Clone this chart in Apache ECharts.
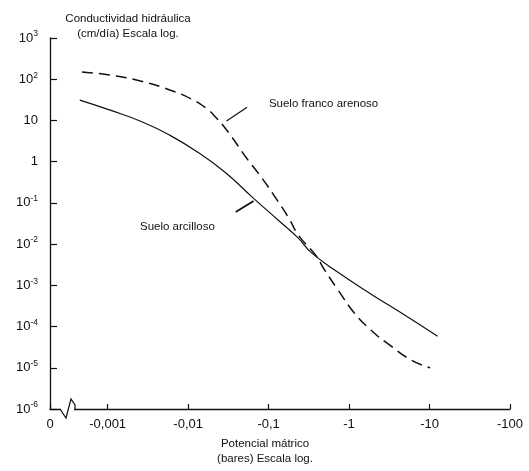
<!DOCTYPE html>
<html>
<head>
<meta charset="utf-8">
<script src="https://cdn.jsdelivr.net/npm/echarts@6/dist/echarts.min.js"></script>
<style>
html,body{margin:0;padding:0;background:#fff}
#chart{width:529px;height:471px}
</style>
</head>
<body>
<div id="chart"></div>
<script>
// potencial mátrico (bares) / conductividad hidráulica (cm/día)
const francoPotencial = [-0.00048, -0.0011, -0.0027, -0.0059, -0.011, -0.0166, -0.022, -0.032, -0.052, -0.081, -0.123, -0.178, -0.234, -0.38, -0.5, -0.72, -1.17, -1.86, -3.0, -5.9, -10.2];
const francoK = [150, 125, 88, 55, 33, 20, 12, 5, 1.3, 0.42, 0.13, 0.043, 0.0166, 0.0055, 0.0023, 0.0008, 2.1e-4, 8.3e-5, 3.9e-5, 1.55e-5, 1.0e-5];
const arcillaPotencial = [-0.00045, -0.00105, -0.0027, -0.0059, -0.0138, -0.0295, -0.062, -0.132, -0.234, -0.34, -0.72, -1.86, -4.9, -12.6];
const arcillaK = [31, 18, 9.2, 4.4, 1.6, 0.53, 0.14, 0.038, 0.014, 0.0062, 0.0021, 6.2e-4, 1.9e-4, 5.8e-5];

const nombres = ['Suelo franco arenoso', 'Suelo arcilloso'];
const tituloY = 'Conductividad hidráulica\n(cm/día) Escala log.';
const tituloX = 'Potencial mátrico\n(bares) Escala log.';

const ink = '#111';
const font = 'Liberation Sans, Arial, sans-serif';

function pares(pot, k){
	return pot.map((p, i) => [Math.abs(p), k[i]]);
}

function etiquetaX(v){
	if (v < 0.0009) return '0';
	let e = Math.round(Math.log10(v));
	if (e < 0) return '-0,' + '0'.repeat(-e - 1) + '1';
	return '-' + Math.pow(10, e);
}

function etiquetaY(v){
	let e = Math.round(Math.log10(v));
	if (e === 0) return '1';
	if (e === 1) return '10';
	return '{b|10}{s|' + e + '}';
}

let myChart = echarts.init(document.getElementById('chart'));

let option = {
	animation: false,
	backgroundColor: '#fff',
	textStyle: { fontFamily: font, color: ink },
	grid: {
		left: 50,
		right: 19,
		top: 38,
		bottom: 62,
		containLabel: false,
		outerBoundsMode: 'none'
	},
	xAxis: {
		type: 'log',
		logBase: 10,
		min: 0.000192,
		max: 100,
		name: tituloX,
		nameLocation: 'middle',
		nameGap: 27,
		nameMoveOverlap: false,
		nameTextStyle: {
			fontSize: 11.5,
			lineHeight: 15,
			color: ink,
			align: 'center',
			verticalAlign: 'top',
			padding: [0, 30, 0, 0]
		},
		axisLine: { lineStyle: { color: ink, width: 1.3 } },
		axisTick: { inside: true, length: 5, lineStyle: { color: ink, width: 1.2 } },
		axisLabel: {
			fontSize: 13,
			color: ink,
			margin: 9,
			formatter: etiquetaX
		},
		splitLine: { show: false },
		minorTick: { show: false }
	},
	yAxis: {
		type: 'log',
		logBase: 10,
		min: 1e-6,
		max: 1e3,
		name: tituloY,
		nameLocation: 'end',
		nameGap: -3,
		nameMoveOverlap: false,
		nameTextStyle: {
			fontSize: 11.5,
			lineHeight: 15,
			color: ink,
			align: 'center',
			verticalAlign: 'bottom',
			padding: [0, 0, 0, 156]
		},
		axisLine: { show: true, lineStyle: { color: ink, width: 1.3 } },
		axisTick: { inside: true, length: 7, lineStyle: { color: ink, width: 1.2 } },
		axisLabel: {
			fontSize: 13,
			color: ink,
			margin: 12,
			formatter: etiquetaY,
			rich: {
				b: { fontSize: 13, color: ink, fontFamily: font },
				s: { fontSize: 8.5, color: ink, fontFamily: font, padding: [0, 0, 8, 0] }
			}
		},
		splitLine: { show: false },
		minorTick: { show: false }
	},
	series: [
		{
			name: nombres[0],
			type: 'line',
			data: pares(francoPotencial, francoK),
			smooth: 0.5,
			showSymbol: false,
			lineStyle: { color: ink, width: 1.5, type: [11, 6] },
			markLine: {
				silent: true,
				symbol: ['none', 'none'],
				label: { show: false },
				lineStyle: { color: ink, width: 1.2, type: 'solid' },
				data: [[{ coord: [0.030, 9.7] }, { coord: [0.054, 21] }]]
			},
			markPoint: {
				silent: true,
				symbolSize: 1,
				itemStyle: { color: 'rgba(0,0,0,0)' },
				label: {
					show: true,
					position: 'right',
					distance: 0,
					fontSize: 11.5,
					color: ink,
					formatter: nombres[0]
				},
				data: [{ coord: [0.1, 25] }]
			}
		},
		{
			name: nombres[1],
			type: 'line',
			data: pares(arcillaPotencial, arcillaK),
			smooth: 0.5,
			showSymbol: false,
			lineStyle: { color: ink, width: 1.2 },
			markLine: {
				silent: true,
				symbol: ['none', 'none'],
				label: { show: false },
				lineStyle: { color: ink, width: 1.8, type: 'solid' },
				data: [[{ coord: [0.039, 0.060] }, { coord: [0.065, 0.111] }]]
			},
			markPoint: {
				silent: true,
				symbolSize: 1,
				itemStyle: { color: 'rgba(0,0,0,0)' },
				label: {
					show: true,
					position: 'right',
					distance: 0,
					fontSize: 11.5,
					color: ink,
					formatter: nombres[1]
				},
				data: [{ coord: [0.0025, 0.026] }]
			}
		}
	],
	graphic: [
		{
			type: 'rect',
			z: 100,
			shape: { x: 61, y: 405, width: 13, height: 7 },
			style: { fill: '#fff' }
		},
		{
			type: 'polyline',
			z: 101,
			shape: { points: [[60, 409], [66, 418], [71, 399], [75, 405], [75, 409]] },
			style: { stroke: ink, lineWidth: 1.2, fill: null }
		}
	]
};

myChart.setOption(option);
</script>
</body>
</html>
